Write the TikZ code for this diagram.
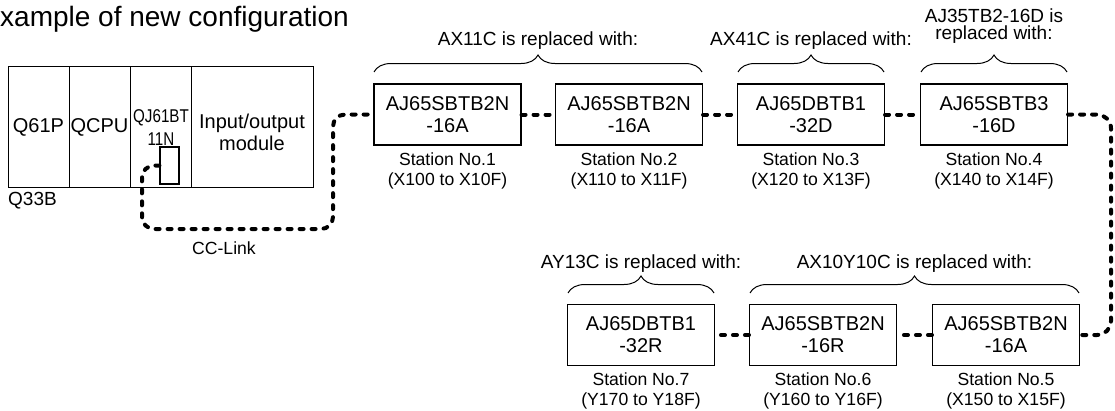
\documentclass[tikz,border=0pt]{standalone}
\usepackage{fontspec}
\setmainfont{Liberation Sans}
\usetikzlibrary{decorations.pathreplacing}
\newfontfamily\condfont[FakeStretch=0.82]{Liberation Sans}
\begin{document}
\begin{tikzpicture}[x=1pt,y=-1pt,
  stbox/.style={draw,line width=1.1pt,minimum width=147pt,minimum height=61pt,inner sep=0pt,align=center,
    font=\fontsize{20}{22}\selectfont},
  slot/.style={draw,line width=1.1pt,inner sep=0pt,anchor=north west,minimum height=121pt},
  stlabel/.style={align=center,inner sep=0pt,font=\fontsize{17.6}{20}\selectfont},
  txt/.style={inner sep=0pt,align=center,font=\fontsize{19}{21}\selectfont},
  cable/.style={line width=4pt,dash pattern=on 4pt off 8pt,line cap=round},
  brace/.style={decorate,decoration={brace,amplitude=17pt},line width=1pt}]
\useasboundingbox (0,0) rectangle (1115,410);
% title
\node[anchor=base west,inner sep=0pt,font=\fontsize{28}{30}\selectfont] (title) at (0,26) {xample of new configuration};
% rack
\node[slot,minimum width=61pt] (s1) at (8,66) {};
\node[slot,minimum width=61pt] (s2) at (69,66) {};
\node[slot,minimum width=61pt] (s3) at (130,66) {};
\node[slot,minimum width=122pt] (s4) at (191,66) {};
\node[txt,font=\fontsize{20}{22}\selectfont] (t1) at (38.5,127) {Q61P};
\node[txt,font=\fontsize{20}{22}\selectfont] (t2) at (99.5,127) {QCPU};
\node[txt,font=\condfont\fontsize{18.5}{23}\selectfont] (t3) at (161,128) {QJ61BT\\11N};
\node[txt,font=\fontsize{20}{22}\selectfont] (t4) at (252,132.5) {Input/output\\module};
\node[draw,line width=1.1pt,minimum width=19pt,minimum height=37pt,inner sep=0pt] (port) at (169.5,165.5) {};
\node[txt,anchor=west] (q33b) at (8,201) {Q33B};
\node[stlabel] (cc) at (224,248) {CC-Link};
% stations top
\node[stbox] (b1) at (447.5,114.5) {AJ65SBTB2N\\-16A};
\node[stbox] (b2) at (629,114.5) {AJ65SBTB2N\\-16A};
\node[stbox] (b3) at (811,114.5) {AJ65DBTB1\\-32D};
\node[stbox] (b4) at (994,114.5) {AJ65SBTB3\\-16D};
\node[stlabel] (l1) at (447.5,171) {Station No.1\\(X100 to X10F)};
\node[stlabel] (l2) at (629,171) {Station No.2\\(X110 to X11F)};
\node[stlabel] (l3) at (811,171) {Station No.3\\(X120 to X13F)};
\node[stlabel] (l4) at (994,171) {Station No.4\\(X140 to X14F)};
% stations bottom
\node[stbox] (b7) at (641,335) {AJ65DBTB1\\-32R};
\node[stbox] (b6) at (823,335) {AJ65SBTB2N\\-16R};
\node[stbox] (b5) at (1006,335) {AJ65SBTB2N\\-16A};
\node[stlabel] (l7) at (641,391) {Station No.7\\(Y170 to Y18F)};
\node[stlabel] (l6) at (823,391) {Station No.6\\(Y160 to Y16F)};
\node[stlabel] (l5) at (1006,391) {Station No.5\\(X150 to X15F)};
% braces
\draw[brace] (374,72) -- (702,72);
\draw[brace] (738,72) -- (884,72);
\draw[brace] (921,72) -- (1067,72);
\draw[brace] (568,293) -- (714,293);
\draw[brace] (750,293) -- (1079,293);
\node[txt] (r1) at (538,41) {AX11C is replaced with:};
\node[txt] (r2) at (811,41) {AX41C is replaced with:};
\node[txt,font=\fontsize{19}{17}\selectfont] (r3) at (994,26) {AJ35TB2-16D is\\replaced with:};
\node[txt] (r7) at (641,264) {AY13C is replaced with:};
\node[txt] (r6) at (914.5,264) {AX10Y10C is replaced with:};
% cables
\coordinate (lc1) at (142,229);
\coordinate (lc2) at (333,114.5);
\coordinate (rc) at (1111,335);
\draw[cable,rounded corners=12pt] (port.west) -| (lc1) -| (lc2) -- (b1.west);
\draw[cable] (b1.east) -- (b2.west);
\draw[cable] (b2.east) -- (b3.west);
\draw[cable] (b3.east) -- (b4.west);
\draw[cable,rounded corners=14pt] (b4.east) -| (rc) -- (b5.east);
\draw[cable] (b5.west) -- (b6.east);
\draw[cable] (b6.west) -- (b7.east);
\end{tikzpicture}
\end{document}
